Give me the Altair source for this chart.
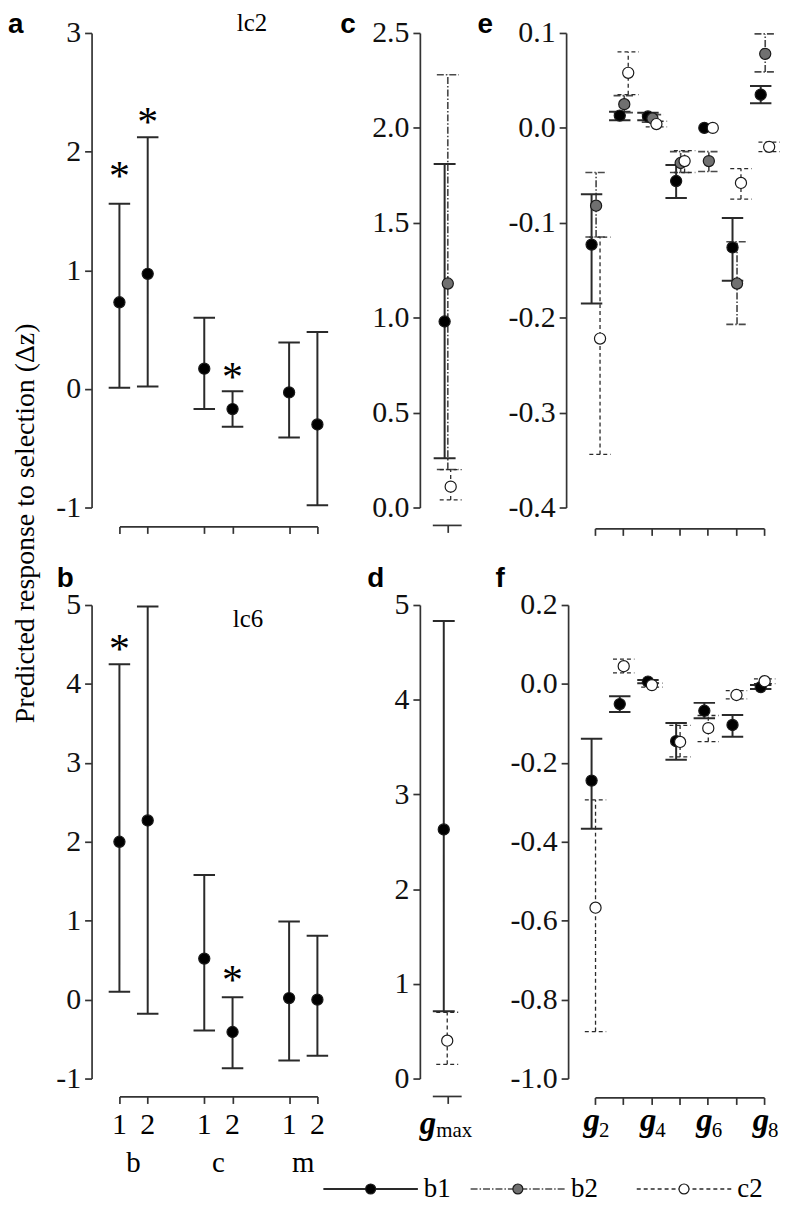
import altair as alt
import numpy as np
import pandas as pd

SERIF = "Liberation Serif"
SANS = "Liberation Sans"

# ---------------- data ----------------
SERIES = ["b1", "b2", "c2"]
y_title = "Predicted response to selection (\u0394z)"
panel_names = ["lc2", "lc6"]

# panels a, b : single traits (b, c, m ; 1, 2)
trait_pos = [1, 2, 4, 5, 7, 8]
trait_tick_labels = ["1", "2", "1", "2", "1", "2"]
trait_groups = ["b", "c", "m"]
group_centers = [1.5, 4.5, 7.5]

a_est = [0.73, 0.97, 0.17, -0.17, -0.03, -0.30]
a_lo = [0.01, 0.02, -0.17, -0.32, -0.41, -0.98]
a_hi = [1.56, 2.12, 0.60, -0.02, 0.39, 0.48]
a_star = [1.85, 2.31, None, 0.16, None, None]

b_est = [2.00, 2.27, 0.52, -0.41, 0.02, 0.00]
b_lo = [0.10, -0.18, -0.39, -0.87, -0.77, -0.71]
b_hi = [4.25, 4.98, 1.58, 0.03, 0.99, 0.81]
b_star = [4.53, None, None, 0.34, None, None]

# panels c, d : g_max
gmax_pos = [1]
c_b1 = ([0.98], [0.26], [1.81])
c_b2 = ([1.18], [0.20], [2.28])
c_c2 = ([0.11], [0.04], [0.20])
d_b1 = ([2.63], [0.71], [4.83])
d_c2 = ([0.40], [0.15], [0.70])

# panels e, f : g2 .. g8
g_pos = [1, 2, 3, 4, 5, 6, 7]
g_label_pos = [1, 3, 5, 7]
g_label_sub = ["2", "4", "6", "8"]

e_b1_est = [-0.123, 0.013, 0.012, -0.056, 0.000, -0.126, 0.035]
e_b1_lo = [-0.185, 0.008, 0.008, -0.074, None, -0.161, 0.026]
e_b1_hi = [-0.070, 0.017, 0.016, -0.039, None, -0.095, 0.044]
e_b2_est = [-0.082, 0.025, 0.010, -0.037, -0.035, -0.164, 0.078]
e_b2_lo = [-0.115, 0.016, 0.006, -0.047, -0.046, -0.207, 0.059]
e_b2_hi = [-0.047, 0.034, 0.014, -0.025, -0.025, -0.120, 0.099]
e_c2_est = [-0.222, 0.058, 0.004, -0.035, 0.000, -0.058, -0.020]
e_c2_lo = [-0.344, 0.035, 0.001, -0.047, None, -0.075, -0.025]
e_c2_hi = [-0.115, 0.080, 0.007, -0.024, None, -0.043, -0.015]

f_b1_est = [-0.245, -0.051, 0.006, -0.145, -0.068, -0.104, -0.008]
f_b1_lo = [-0.367, -0.071, 0.002, -0.192, -0.087, -0.134, -0.013]
f_b1_hi = [-0.139, -0.031, 0.010, -0.099, -0.048, -0.079, -0.003]
f_c2_est = [-0.567, 0.045, -0.003, -0.147, -0.112, -0.028, 0.007]
f_c2_lo = [-0.881, 0.028, -0.008, -0.185, -0.146, -0.038, 0.001]
f_c2_hi = [-0.294, 0.063, 0.002, -0.105, -0.080, -0.017, 0.013]

# ---------------- layout / style ----------------
W_A, W_C, W_E = 199, 47, 170
H_TOP, H_BOT = 477, 476
CAP = 0.38
C_UNIT = 29.0  # px per unit in panels c/d

DASH = alt.Scale(domain=SERIES, range=[[1, 0], [7, 2, 1.5, 2], [4, 3]])
SW = alt.Scale(domain=SERIES, range=[2.0, 1.3, 1.5])
COL = alt.Scale(domain=SERIES, range=["#2a2a2a", "#4a4a4a", "#2a2a2a"])
FILL = alt.Scale(domain=SERIES, range=["#000000", "#707070", "#ffffff"])
MINUS = "replace(datum.label, '\u2212', '-')"

AXIS_STYLE = dict(domainColor="#333333", domainWidth=1.7, tickColor="#333333", tickWidth=1.7,
                  tickSize=7, labelFont=SERIF, labelFontSize=30, labelColor="#111111",
                  labelPadding=4, grid=False, title=None)


def style():
    return dict(
        color=alt.Color("series:N", scale=COL, legend=None),
        strokeDash=alt.StrokeDash("series:N", scale=DASH, legend=None),
        strokeWidth=alt.StrokeWidth("series:N", scale=SW, legend=None),
    )


def long_df(entries, positions, offsets):
    rows = []
    for s, est, lo, hi in entries:
        for p, e_, l_, h_ in zip(positions, est, lo, hi):
            rows.append({"series": s, "pos": p + offsets[s], "est": e_,
                         "lo": np.nan if l_ is None else l_,
                         "hi": np.nan if h_ is None else h_})
    return pd.DataFrame(rows)


def panel(df, xdom, ydom, w, h, yvals, yfmt, yoff, xvals, xoff, xdomain=True, extras=()):
    xs = alt.Scale(domain=xdom, nice=False, zero=False)
    ys = alt.Scale(domain=ydom, nice=False, zero=False)
    xax = alt.Axis(values=xvals, offset=xoff, labels=False, domain=xdomain, **AXIS_STYLE)
    yax = alt.Axis(values=yvals, format=yfmt, offset=yoff, labelExpr=MINUS, **AXIS_STYLE)

    def X(f):
        return alt.X(f, scale=xs, axis=xax)

    def Y(f):
        return alt.Y(f, scale=ys, axis=yax)

    base = alt.Chart(df)
    bars = base.transform_filter("isValid(datum.lo)").mark_rule().encode(
        x=X("pos:Q"), y=Y("lo:Q"), y2="hi:Q", **style())
    caps = (base.transform_filter("isValid(datum.lo)")
            .transform_fold(["lo", "hi"], as_=["end", "yv"])
            .transform_calculate(xl=f"datum.pos - {CAP}", xr=f"datum.pos + {CAP}")
            .mark_rule().encode(x=X("xl:Q"), x2="xr:Q", y=Y("yv:Q"), **style()))
    pts = base.mark_point(shape="circle", filled=True, size=125, stroke="#1a1a1a",
                          strokeWidth=1.2, opacity=1, fillOpacity=1).encode(
        x=X("pos:Q"), y=Y("est:Q"), fill=alt.Fill("series:N", scale=FILL, legend=None))
    layers = [bars, caps, pts] + [mk(X, Y, w, h) for mk in extras]
    return alt.layer(*layers).properties(width=w, height=h)


def label_px(txt, x, y, **kw):
    def mk(X, Y, w, h):
        return alt.Chart(pd.DataFrame({"t": [txt]})).mark_text(**kw).encode(
            x=alt.value(x), y=alt.value(y), text="t:N")
    return mk


def letter(txt, x, y, top=True):
    return label_px(txt, x, y, font=SANS, fontWeight="bold", fontSize=28, align="left",
                    baseline="top" if top else "alphabetic", color="black")


def stars(star_vals):
    def mk(X, Y, w, h):
        df = pd.DataFrame({"pos": trait_pos, "star": [np.nan if v is None else v for v in star_vals]}).dropna()
        return alt.Chart(df).mark_text(text="*", font=SERIF, fontSize=42, baseline="middle", dy=8,
                                       color="black").encode(x=X("pos:Q"), y=Y("star:Q"))
    return mk


def trait_labels(X, Y, w, h):
    d1 = pd.DataFrame({"x": trait_pos, "t": trait_tick_labels})
    d2 = pd.DataFrame({"x": group_centers, "t": trait_groups})
    t1 = alt.Chart(d1).mark_text(font=SERIF, fontSize=30, baseline="alphabetic", color="black").encode(
        x=X("x:Q"), y=alt.value(h + 56), text="t:N")
    t2 = alt.Chart(d2).mark_text(font=SERIF, fontSize=29, baseline="alphabetic", color="black").encode(
        x=X("x:Q"), y=alt.value(h + 94), text="t:N")
    return alt.layer(t1, t2)


def g_labels(positions, subs, dx_g, dx_s, yb, ys_):
    def mk(X, Y, w, h):
        df = pd.DataFrame({"x": positions, "g": ["g"] * len(positions), "s": subs})
        tg = alt.Chart(df).mark_text(font=SERIF, fontStyle="italic", fontWeight="bold", fontSize=33,
                                     align="right", dx=dx_g, baseline="alphabetic", color="black").encode(
            x=X("x:Q"), y=alt.value(h + yb), text="g:N")
        ts = alt.Chart(df).mark_text(font=SERIF, fontSize=21, align="left", dx=dx_s,
                                     baseline="alphabetic", color="black").encode(
            x=X("x:Q"), y=alt.value(h + ys_), text="s:N")
        return alt.layer(tg, ts)
    return mk


def xline(lo, hi, off):
    def mk(X, Y, w, h):
        return alt.Chart(pd.DataFrame({"a": [lo], "b": [hi]})).mark_rule(
            color="#333333", strokeWidth=1.7).encode(x=X("a:Q"), x2="b:Q", y=alt.value(h + off))
    return mk


# legend (drawn inside panel d, positions converted into d's data units)
legend_series = ["b1", "b2", "c2"]
LEG_LEFT = [325, 473, 640]
LEG_LEN, LEG_Y = 95, 1192
D_LEFT, D_BOTTOM = 435, 1081


def legend(X, Y, w, h):
    ux = lambda px: 0.5 + (px - D_LEFT) / C_UNIT
    uy = lambda py: (D_BOTTOM - py) / h * 5.0
    rows = []
    for s, px in zip(legend_series, LEG_LEFT):
        rows.append({"series": s, "x0": ux(px), "x1": ux(px + LEG_LEN),
                     "xm": ux(px + LEG_LEN / 2), "xt": ux(px + LEG_LEN + 6), "y": uy(LEG_Y)})
    df = pd.DataFrame(rows)
    base = alt.Chart(df)
    line = base.mark_rule().encode(x=X("x0:Q"), x2="x1:Q", y=Y("y:Q"), **style())
    dot = base.mark_point(shape="circle", filled=True, size=100, stroke="#1a1a1a", strokeWidth=1.2,
                          opacity=1).encode(x=X("xm:Q"), y=Y("y:Q"),
                                            fill=alt.Fill("series:N", scale=FILL, legend=None))
    txt = base.mark_text(align="left", baseline="middle", font=SERIF, fontSize=27, color="black").encode(
        x=X("xt:Q"), y=Y("y:Q"), text="series:N")
    return alt.layer(line, dot, txt)


# ---------------- panels ----------------
a_df = long_df([("b1", a_est, a_lo, a_hi)], trait_pos, {"b1": 0.0})
b_df = long_df([("b1", b_est, b_lo, b_hi)], trait_pos, {"b1": 0.0})
c_df = long_df([("b1",) + c_b1, ("b2",) + c_b2, ("c2",) + c_c2], gmax_pos,
               {"b1": -0.09, "b2": 0.02, "c2": 0.12})
d_df = long_df([("b1",) + d_b1, ("c2",) + d_c2], gmax_pos, {"b1": -0.12, "c2": 0.0})
e_df = long_df([("b1", e_b1_est, e_b1_lo, e_b1_hi), ("b2", e_b2_est, e_b2_lo, e_b2_hi),
                ("c2", e_c2_est, e_c2_lo, e_c2_hi)], g_pos, {"b1": -0.12, "b2": 0.04, "c2": 0.18})
f_df = long_df([("b1", f_b1_est, f_b1_lo, f_b1_hi), ("c2", f_c2_est, f_c2_lo, f_c2_hi)], g_pos,
               {"b1": -0.12, "c2": 0.02})

C_DOM = [0.5, 0.5 + W_C / C_UNIT]

pa = panel(a_df, [1, 8], [-1, 3], W_A, H_TOP, [-1, 0, 1, 2, 3], "d", 28, trait_pos, 19,
           extras=[stars(a_star), letter("a", -112, -22),
                   label_px(panel_names[0], 118, -2, font=SERIF, fontSize=25, align="left",
                            baseline="alphabetic", color="black"),
                   label_px(y_title, -94, 493, font=SERIF, fontSize=28, angle=270, align="center",
                            baseline="middle", color="black")])
pb = panel(b_df, [1, 8], [-1, 5], W_A, H_BOT, [-1, 0, 1, 2, 3, 4, 5], "d", 28, trait_pos, 18,
           extras=[stars(b_star), letter("b", -63, -18, top=False), trait_labels,
                   label_px(panel_names[1], 114, 22, font=SERIF, fontSize=25, align="left",
                            baseline="alphabetic", color="black")])
pc = panel(c_df, C_DOM, [0, 2.5], W_C, H_TOP, [0, 0.5, 1.0, 1.5, 2.0, 2.5], ".1f", 13, [1], 18,
           xdomain=False, extras=[xline(0.5, 1.5, 18), letter("c", -93, -22)])
pd_ = panel(d_df, C_DOM, [0, 5], W_C, H_BOT, [0, 1, 2, 3, 4, 5], "d", 13, [1], 18,
            xdomain=False, extras=[xline(0.5, 1.5, 18), letter("d", -66, -18, top=False),
                                   g_labels(gmax_pos, ["max"], -11, -11, 56, 59), legend])
pe = panel(e_df, [1, 7], [-0.4, 0.1], W_E, H_TOP, [-0.4, -0.3, -0.2, -0.1, 0.0, 0.1], ".1f", 29,
           g_pos, 21, extras=[letter("e", -118, -22)])
pf = panel(f_df, [1, 7], [-1.0, 0.2], W_E, H_BOT, [-1.0, -0.8, -0.6, -0.4, -0.2, 0.0, 0.2], ".1f", 27,
           g_pos, 19, extras=[letter("f", -100, -18, top=False),
                              g_labels(g_label_pos, g_label_sub, 5, 4, 53, 59)])

chart = alt.concat(pa, pc, pe, pb, pd_, pf, columns=3,
                   spacing={"row": 98, "column": 116}, bounds="flush").properties(
    padding=0, background="white"
).configure_view(stroke=None).configure_axis(**{k: v for k, v in AXIS_STYLE.items() if k != "title"})

chart.save("out.html", embed_options={"renderer": "svg", "actions": False})
